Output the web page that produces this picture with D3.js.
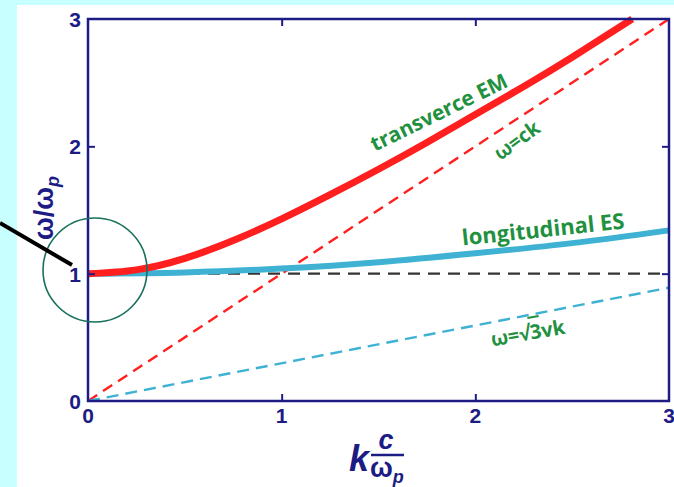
<!DOCTYPE html>
<meta charset="utf-8">
<style>
body{margin:0;background:#c8ffff;font-family:Arial,"Liberation Sans",sans-serif;}
svg{display:block;}
</style>
<body>
<div id="container"></div>
<script src="https://d3js.org/d3.v7.min.js"></script>
<script>

var width = 674,
    height = 487;

// values (k c/wp, w/wp)
var emK = [0, 0.25, 0.5, 0.75, 1, 1.25, 1.5, 1.75, 2, 2.25, 2.5, 2.81];
var emW = [1, 1.03, 1.12, 1.26, 1.43, 1.62, 1.82, 2.03, 2.25, 2.47, 2.7, 3.0];
var esK = [0, 0.5, 1, 1.5, 2, 2.5, 3];
var esW = [1, 1.01, 1.04, 1.09, 1.16, 1.24, 1.34];
var lightK = [0, 3];
var lightW = [0, 3];
var soundK = [0, 3];
var soundW = [0, 0.89];
var plasmaK = [0, 3];
var plasmaW = [1, 1];
var tickVals = [0, 1, 2, 3];

var navy = "#1c1c84", green = "#1f9140", red = "#ff1f1f", cyan = "#3fb2d4";
var labelFont = "'Open Sans', Arial, sans-serif";

var svg = d3.select("#container").append("svg")
    .attr("width", width)
    .attr("height", height);

svg.append("rect")
    .attr("x", 17).attr("y", 5)
    .attr("width", width - 17).attr("height", height - 5)
    .style("fill", "#fff");

var x = d3.scaleLinear().domain([0, 3]).range([88, 669]);
var y = d3.scaleLinear().domain([0, 3]).range([401, 19]);

var line = d3.line()
    .x(function(d) { return x(d[0]); })
    .y(function(d) { return y(d[1]); })
    .curve(d3.curveNatural);

function pts(ks, ws) { return ks.map(function(k, i) { return [k, ws[i]]; }); }

var plot = svg.append("g");

plot.append("path").attr("d", line(pts(plasmaK, plasmaW)))
    .style("stroke", "#333").style("stroke-width", 2.2)
    .style("stroke-dasharray", "12,8").style("fill", "none");
plot.append("path").attr("d", line(pts(lightK, lightW)))
    .style("stroke", red).style("stroke-width", 2.4)
    .style("stroke-dasharray", "11,7").style("fill", "none");
plot.append("path").attr("d", line(pts(soundK, soundW)))
    .style("stroke", cyan).style("stroke-width", 2.4)
    .style("stroke-dasharray", "12,7").style("fill", "none");
plot.append("path").attr("d", line(pts(esK, esW)))
    .style("stroke", cyan).style("stroke-width", 6).style("fill", "none");
plot.append("path").attr("d", line(pts(emK, emW)))
    .style("stroke", red).style("stroke-width", 7).style("fill", "none");

// frame
svg.append("rect")
    .attr("x", x(0)).attr("y", y(3))
    .attr("width", x(3) - x(0)).attr("height", y(0) - y(3))
    .style("fill", "none").style("stroke", navy).style("stroke-width", 2.5);

var inner = [1, 2];
function tickStyle(g) {
  g.select(".domain").remove();
  g.selectAll("line").style("stroke", navy).style("stroke-width", 2);
}
svg.append("g").attr("transform", "translate(0," + y(0) + ")")
    .call(d3.axisTop(x).tickValues(inner).tickSize(7).tickFormat("")).call(tickStyle);
svg.append("g").attr("transform", "translate(0," + y(3) + ")")
    .call(d3.axisBottom(x).tickValues(inner).tickSize(7).tickFormat("")).call(tickStyle);
svg.append("g").attr("transform", "translate(" + x(0) + ",0)")
    .call(d3.axisRight(y).tickValues(inner).tickSize(7).tickFormat("")).call(tickStyle);
svg.append("g").attr("transform", "translate(" + x(3) + ",0)")
    .call(d3.axisLeft(y).tickValues(inner).tickSize(7).tickFormat("")).call(tickStyle);

// tick labels
svg.selectAll(".xl").data(tickVals).enter().append("text")
    .attr("x", function(d) { return x(d); }).attr("y", 423)
    .attr("text-anchor", "middle")
    .style("font-size", "21px").style("font-weight", "bold").style("fill", navy)
    .text(function(d) { return d; });
svg.selectAll(".yl").data(tickVals).enter().append("text")
    .attr("x", 81).attr("y", function(d) { return y(d) + 8; })
    .attr("text-anchor", "end")
    .style("font-size", "21px").style("font-weight", "bold").style("fill", navy)
    .text(function(d) { return d; });

// axis titles
var yt = svg.append("text")
    .attr("transform", "translate(53,208) rotate(-90)")
    .attr("text-anchor", "middle")
    .style("font-size", "27px").style("font-weight", "bold").style("fill", navy);
yt.append("tspan").text("ω/ω");
yt.append("tspan").attr("dy", 6).style("font-size", "18px").style("font-style", "italic").text("p");

var xt = svg.append("g").style("fill", navy).style("font-weight", "bold");
xt.append("text").attr("x", 349).attr("y", 471)
    .style("font-size", "36px").style("font-style", "italic").text("k");
xt.append("text").attr("x", 386).attr("y", 449).attr("text-anchor", "middle")
    .style("font-size", "27px").style("font-style", "italic").text("c");
xt.append("line").attr("x1", 371).attr("x2", 404).attr("y1", 455).attr("y2", 455)
    .style("stroke", navy).style("stroke-width", 2.5);
var wp = xt.append("text").attr("x", 370).attr("y", 477).style("font-size", "27px");
wp.append("tspan").text("ω");
wp.append("tspan").attr("dy", 6).style("font-size", "18px").style("font-style", "italic").text("p");

// curve labels
function label(t, cx, cy, ang, fs) {
  return svg.append("text")
    .attr("transform", "translate(" + cx + "," + cy + ") rotate(" + ang + ")")
    .attr("text-anchor", "middle")
    .style("font-family", labelFont)
    .style("font-size", fs + "px").style("font-weight", "bold").style("fill", green)
    .text(t);
}
label("transverce EM", 442, 119, -26, 21);
label("ω=ck", 521, 146, -36, 20);
label("longitudinal ES", 544, 237, -6, 22);
var sl = svg.append("text")
    .attr("transform", "translate(529,340) rotate(-10)")
    .attr("text-anchor", "middle")
    .style("font-family", labelFont)
    .style("font-size", "20px").style("font-weight", "bold").style("fill", green);
sl.append("tspan").text("ω=√");
sl.append("tspan").style("text-decoration", "overline").text("3");
sl.append("tspan").text("vk");

// annotation circle and pointer
svg.append("circle").attr("cx", 95).attr("cy", 270).attr("r", 52)
    .style("fill", "none").style("stroke", "#17705c").style("stroke-width", 1.6);
svg.append("line").attr("x1", 0).attr("y1", 223).attr("x2", 72).attr("y2", 265)
    .style("stroke", "#000").style("stroke-width", 4);

</script>
</body>
</html>
